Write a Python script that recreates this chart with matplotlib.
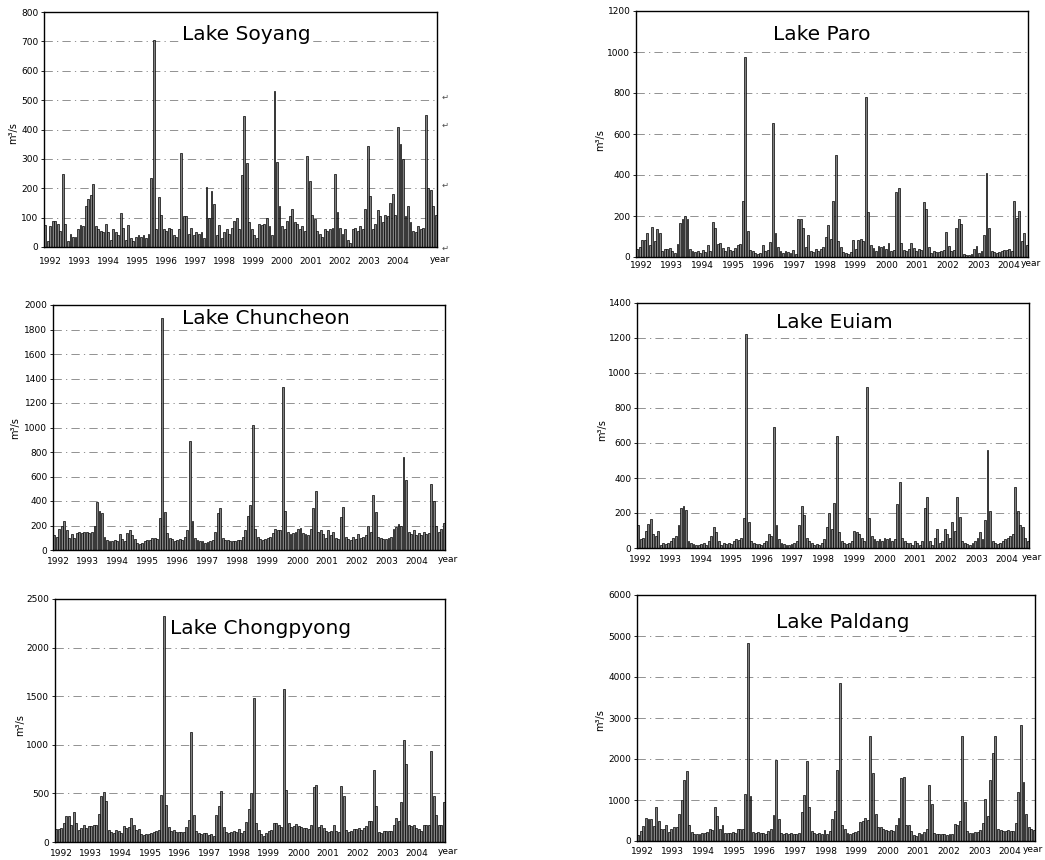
import matplotlib.pyplot as plt
import numpy as np

# monthly mean flow (m3/s), Jan..Dec, one row per year 1992-2004
years = list(range(1992, 2005))

soyang = [
    75, 20, 70, 90, 88, 80, 55, 250, 80, 20, 45, 35,        # 1992
    35, 60, 75, 70, 140, 165, 178, 213, 70, 60, 55, 50,     # 1993
    80, 50, 25, 60, 50, 40, 115, 65, 25, 75, 30, 20,        # 1994
    35, 40, 35, 40, 30, 45, 235, 705, 60, 170, 110, 60,     # 1995
    55, 65, 60, 40, 35, 60, 320, 105, 105, 45, 65, 40,      # 1996
    50, 45, 50, 30, 205, 100, 190, 145, 40, 75, 30, 50,     # 1997
    60, 45, 65, 90, 100, 60, 245, 445, 285, 85, 60, 40,     # 1998
    30, 80, 75, 80, 100, 70, 40, 530, 290, 140, 70, 60,     # 1999
    90, 105, 130, 85, 80, 60, 70, 55, 310, 225, 110, 95,    # 2000
    55, 45, 35, 60, 55, 60, 65, 250, 120, 65, 45, 60,       # 2001
    25, 15, 60, 65, 55, 70, 60, 130, 345, 175, 60, 80,      # 2002
    125, 105, 85, 110, 105, 150, 180, 110, 410, 350, 300, 105,  # 2003
    140, 85, 55, 50, 70, 60, 65, 450, 200, 195, 140, 110,   # 2004
]

paro = [
    40, 50, 85, 85, 115, 60, 145, 80, 135, 115, 30, 40,
    40, 45, 30, 20, 65, 165, 185, 200, 185, 40, 30, 25,
    30, 20, 35, 25, 60, 30, 170, 140, 65, 70, 45, 30,
    50, 35, 30, 45, 60, 65, 275, 975, 125, 35, 30, 20,
    15, 20, 60, 30, 35, 75, 655, 115, 50, 30, 20, 30,
    25, 20, 35, 15, 185, 185, 140, 50, 105, 30, 25, 40,
    30, 40, 50, 100, 155, 90, 275, 500, 80, 50, 25, 20,
    15, 25, 85, 40, 85, 90, 80, 780, 220, 60, 45, 30,
    55, 50, 55, 40, 70, 30, 35, 315, 335, 70, 35, 30,
    40, 70, 45, 30, 40, 35, 270, 235, 50, 20, 30, 25,
    25, 30, 35, 120, 55, 30, 35, 140, 185, 160, 15, 10,
    10, 15, 40, 55, 20, 30, 105, 410, 140, 30, 25, 20,
    25, 30, 35, 35, 40, 30, 275, 190, 225, 80, 115, 60,
]

chuncheon = [
    120, 110, 175, 200, 240, 165, 100, 130, 95, 140, 145, 140,
    145, 150, 140, 150, 200, 390, 320, 300, 110, 85, 75, 70,
    80, 75, 130, 90, 70, 140, 160, 120, 90, 60, 50, 60,
    70, 80, 85, 95, 100, 90, 260, 1890, 310, 140, 100, 90,
    70, 80, 90, 85, 110, 160, 890, 240, 100, 80, 70, 75,
    60, 65, 70, 85, 150, 300, 340, 100, 80, 85, 70, 75,
    70, 80, 85, 110, 160, 280, 370, 1020, 170, 110, 90, 80,
    90, 100, 110, 140, 175, 165, 160, 1330, 320, 150, 130, 140,
    150, 170, 180, 140, 130, 120, 170, 340, 480, 150, 160, 130,
    100, 160, 120, 150, 100, 90, 270, 355, 110, 90, 80, 110,
    90, 130, 100, 110, 120, 200, 150, 450, 310, 110, 100, 90,
    90, 100, 110, 170, 190, 210, 200, 760, 570, 150, 130, 160,
    120, 140, 120, 150, 130, 140, 540, 400, 200, 150, 170, 220,
]

euiam = [
    130, 50, 60, 100, 140, 165, 80, 70, 100, 20, 30, 25,
    30, 40, 60, 70, 130, 230, 240, 220, 40, 30, 25, 20,
    20, 25, 30, 20, 40, 70, 120, 90, 40, 20, 30, 25,
    30, 25, 40, 50, 45, 60, 170, 1220, 150, 40, 30, 25,
    25, 20, 30, 40, 80, 70, 690, 130, 50, 30, 25, 20,
    20, 25, 30, 40, 130, 240, 190, 60, 40, 30, 20, 25,
    20, 30, 50, 120, 200, 110, 260, 640, 90, 40, 30, 25,
    30, 40, 100, 90, 80, 60, 40, 920, 170, 70, 50, 40,
    50, 40, 60, 50, 60, 40, 50, 250, 380, 60, 40, 30,
    30, 20, 40, 30, 20, 40, 230, 290, 40, 20, 60, 110,
    30, 40, 110, 80, 60, 150, 100, 290, 180, 40, 30, 25,
    20, 30, 40, 60, 90, 50, 160, 560, 210, 40, 30, 25,
    30, 40, 50, 60, 70, 80, 350, 210, 130, 120, 60, 40,
]

chongpyong = [
    130, 130, 140, 200, 270, 270, 180, 310, 200, 120, 140, 170,
    140, 160, 160, 180, 180, 290, 470, 510, 420, 120, 100, 90,
    120, 110, 90, 160, 140, 150, 250, 180, 120, 130, 80, 70,
    80, 80, 90, 100, 110, 120, 480, 2320, 380, 150, 110, 120,
    100, 100, 100, 100, 150, 230, 1130, 280, 110, 90, 80, 90,
    90, 70, 80, 60, 280, 370, 520, 150, 100, 90, 100, 110,
    100, 130, 90, 110, 210, 340, 500, 1480, 200, 120, 80, 60,
    90, 110, 120, 200, 200, 180, 150, 1570, 540, 200, 150, 160,
    190, 160, 150, 140, 140, 130, 170, 570, 590, 150, 170, 140,
    110, 100, 110, 170, 110, 100, 580, 470, 120, 100, 110, 130,
    130, 140, 120, 140, 160, 220, 220, 740, 370, 100, 90, 110,
    110, 110, 110, 170, 250, 220, 410, 1050, 800, 170, 160, 170,
    140, 130, 110, 170, 180, 180, 940, 470, 280, 170, 180, 410,
]

paldang = [
    150, 250, 370, 570, 540, 530, 370, 820, 480, 300, 290, 380,
    220, 300, 330, 350, 650, 1000, 1480, 1700, 380, 220, 180, 170,
    180, 200, 200, 220, 300, 280, 820, 600, 300, 380, 200, 190,
    200, 220, 200, 300, 300, 290, 1150, 4820, 1100, 230, 200, 210,
    190, 200, 180, 250, 300, 640, 1980, 530, 200, 180, 190, 170,
    190, 170, 180, 200, 700, 1120, 1940, 820, 250, 200, 180, 190,
    180, 270, 180, 250, 530, 720, 1720, 3850, 380, 300, 200, 180,
    200, 220, 250, 470, 500, 560, 520, 2570, 1650, 650, 350, 330,
    300, 280, 250, 270, 250, 380, 560, 1530, 1560, 380, 380, 250,
    150, 120, 200, 180, 220, 300, 1370, 900, 200, 180, 160, 180,
    170, 150, 160, 180, 420, 380, 500, 2550, 960, 250, 200, 190,
    210, 220, 260, 450, 1020, 600, 1500, 2140, 2550, 300, 260, 250,
    250, 260, 240, 250, 450, 1200, 2820, 1450, 650, 330, 300, 280,
]

names = ['Lake Soyang', 'Lake Paro', 'Lake Chuncheon', 'Lake Euiam',
         'Lake Chongpyong', 'Lake Paldang']
series = [soyang, paro, chuncheon, euiam, chongpyong, paldang]
ymax = [800, 1200, 2000, 1400, 2500, 6000]
ystep = [100, 200, 200, 200, 500, 1000]

W, H = 1045, 860
# layout in pixels: axes box (left, top, right, bottom), title centre,
# y-label position, year labels (first, last, row y)
boxes = [(44, 12, 437, 247), (636, 11, 1028, 257), (53, 305, 445, 550),
         (637, 303, 1029, 548), (55, 599, 445, 842), (637, 595, 1035, 841)]
title_xy = [(246, 35), (822, 35), (266, 318), (834, 323), (261, 628), (843, 623)]
ylab_xy = [(13, 133), (600, 140), (15, 428), (602, 430), (20, 725), (600, 720)]
yr_row = [(50, 398, 261), (641, 1009, 266), (58, 417, 562),
          (640, 1007, 560), (61, 417, 854), (642, 1010, 851)]

fig = plt.figure(figsize=(W / 100, H / 100), dpi=100)

def fx(px):
    return px / W

def fy(py):
    return 1 - py / H

for i in range(6):
    l, t, r, b = boxes[i]
    ax = fig.add_axes([fx(l), fy(b), fx(r - l), (b - t) / H])
    vals = np.array(series[i])
    x = np.arange(len(vals))
    ax.bar(x, vals, width=0.75, color='0.5', edgecolor='black', linewidth=0.5, zorder=2)
    ax.set_xlim(-0.5, len(vals) - 0.5)
    ax.set_ylim(0, ymax[i])
    ax.set_yticks(np.arange(0, ymax[i] + 1, ystep[i]))
    ax.set_xticks([])
    ax.tick_params(axis='y', labelsize=6.5, length=2, width=0.6, pad=2)
    ax.yaxis.grid(True, linestyle=(0, (10, 5, 1.5, 5)), color='0.5', linewidth=0.6)
    ax.set_axisbelow(True)
    for s in ax.spines.values():
        s.set_linewidth(1.0)

    fig.text(fx(title_xy[i][0]), fy(title_xy[i][1]), names[i], fontsize=14.5,
             ha='center', va='center', zorder=5,
             bbox=dict(facecolor='white', edgecolor='none', pad=1))
    fig.text(fx(ylab_xy[i][0]), fy(ylab_xy[i][1]), 'm³/s', fontsize=7,
             rotation=90, ha='center', va='center')

    x0, x1, yy = yr_row[i]
    for k, yr in enumerate(years):
        px = x0 + (x1 - x0) * k / (len(years) - 1)
        fig.text(fx(px), fy(yy), str(yr), fontsize=6.5, ha='center', va='center')
    fig.text(fx(min(r + 3, W - 12)), fy(yy - 2), 'year', fontsize=6.5,
             ha='center', va='center')

# stray return marks at the right of the first panel (scan artefacts)
for py in [97, 125, 185, 248]:
    fig.text(fx(442), fy(py), '↵', fontsize=6, ha='left', va='center', color='0.3')

fig.savefig('out.png', dpi=100)
